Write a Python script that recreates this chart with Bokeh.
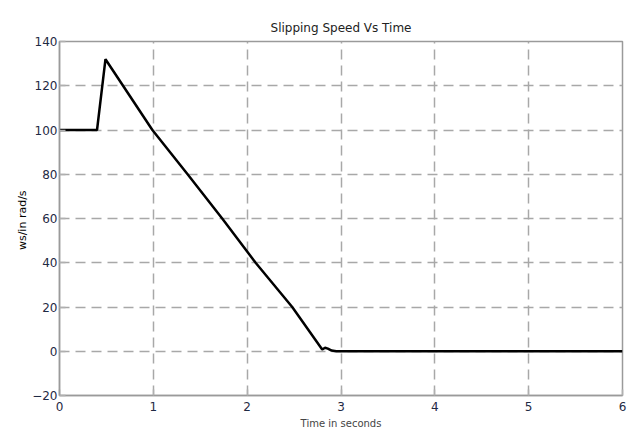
from bokeh.plotting import figure
from bokeh.models import Range1d, FixedTicker
from bokeh.embed import file_html
from bokeh.resources import INLINE

title = "Slipping Speed Vs Time"
x_label = "Time in seconds"
y_label = "ws/in  rad/s"

time_s = [0.0, 0.40, 0.49, 0.99, 1.365, 1.74, 2.09, 2.48, 2.80, 2.83, 2.86, 2.90, 2.95, 3.0, 4.0, 5.0, 6.0]
speed = [100, 100, 132, 100, 80, 59.7, 40, 20, 0.8, 1.6, 1.2, 0.3, 0.0, 0.0, 0.0, 0.0, 0.0]

x_ticks = [0, 1, 2, 3, 4, 5, 6]
y_ticks = [-20, 0, 20, 40, 60, 80, 100, 120, 140]

p = figure(width=628, height=437, output_backend="svg", toolbar_location=None,
           x_range=Range1d(0, 6), y_range=Range1d(-20, 140),
           min_border_left=59, min_border_right=6, min_border_top=41, min_border_bottom=42)

p.title.text = title
p.title.align = "center"
p.title.text_font = "DejaVu Sans"
p.title.text_font_size = "12px"
p.title.text_font_style = "normal"
p.title.text_color = "#222222"
p.title.offset = 0
p.title.standoff = 14

p.outline_line_color = "#9a9a9a"
p.outline_line_width = 1.5

for ax in (p.xaxis[0], p.yaxis[0]):
    ax.axis_line_color = "#9a9a9a"
    ax.axis_line_width = 1.5
    ax.major_tick_in = 6
    ax.major_tick_out = 0
    ax.major_tick_line_color = "#b0b0b0"
    ax.major_tick_line_width = 1.5
    ax.minor_tick_line_color = None
    ax.major_label_text_font = "DejaVu Sans"
    ax.major_label_text_font_size = "12px"
    ax.major_label_text_color = "#1f2a44"

p.xaxis.ticker = FixedTicker(ticks=x_ticks)
p.yaxis.ticker = FixedTicker(ticks=y_ticks)
p.xaxis.major_label_standoff = 6
p.yaxis.major_label_standoff = 2

p.xaxis.axis_label = x_label
p.xaxis.axis_label_text_font = "DejaVu Sans"
p.xaxis.axis_label_text_font_size = "10px"
p.xaxis.axis_label_text_font_style = "normal"
p.xaxis.axis_label_standoff = 4

p.yaxis.axis_label = y_label
p.yaxis.axis_label_text_font = "DejaVu Sans"
p.yaxis.axis_label_text_font_size = "11px"
p.yaxis.axis_label_text_font_style = "normal"
p.yaxis.axis_label_text_color = "black"
p.yaxis.axis_label_standoff = 0

for g in (p.xgrid[0], p.ygrid[0]):
    g.grid_line_color = "#a8a8a8"
    g.grid_line_width = 1.5
    g.grid_line_dash = "10 6"
p.xgrid[0].ticker = FixedTicker(ticks=x_ticks)
p.ygrid[0].ticker = FixedTicker(ticks=y_ticks)

p.line(time_s, speed, line_color="black", line_width=2.5)

open("out.html", "w").write(file_html(p, INLINE))
